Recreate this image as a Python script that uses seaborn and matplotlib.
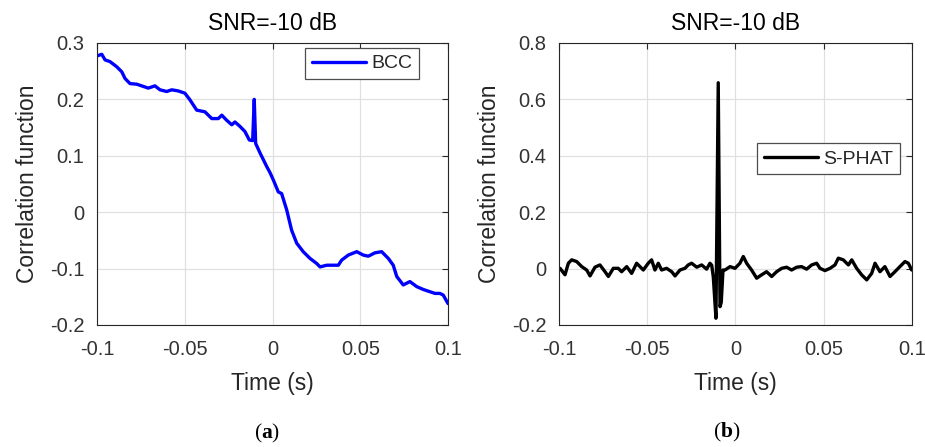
import matplotlib
matplotlib.use("Agg")
import matplotlib.pyplot as plt
import numpy as np
import pandas as pd
import seaborn as sns

# ---------------- data ----------------
bcc_time = [-0.1000, -0.0973, -0.0954, -0.0926, -0.0888, -0.0859, -0.0840, -0.0812,
            -0.0774, -0.0736, -0.0708, -0.0670, -0.0641, -0.0603, -0.0574, -0.0537,
            -0.0499, -0.0470, -0.0432, -0.0385, -0.0346, -0.0309, -0.0289, -0.0261,
            -0.0232, -0.0214, -0.0185, -0.0157, -0.0132, -0.0113, -0.0104, -0.0096,
            -0.0071, -0.0033, -0.0014, 0.0005, 0.0033, 0.0052, 0.0081, 0.0109,
            0.0138, 0.0175, 0.0214, 0.0252, 0.0271, 0.0309, 0.0375, 0.0394,
            0.0432, 0.0480, 0.0517, 0.0546, 0.0584, 0.0622, 0.0660, 0.0688,
            0.0708, 0.0745, 0.0783, 0.0822, 0.0859, 0.0897, 0.0926, 0.0954,
            0.0973, 0.1000]
bcc_value = [0.277, 0.280, 0.270, 0.267, 0.258, 0.249, 0.237, 0.228,
             0.227, 0.223, 0.220, 0.224, 0.217, 0.214, 0.217, 0.215,
             0.211, 0.199, 0.181, 0.178, 0.166, 0.166, 0.172, 0.163,
             0.155, 0.160, 0.152, 0.143, 0.128, 0.127, 0.200, 0.122,
             0.105, 0.081, 0.070, 0.057, 0.036, 0.033, 0.004, -0.032,
             -0.055, -0.070, -0.082, -0.091, -0.097, -0.094, -0.094, -0.085,
             -0.076, -0.070, -0.076, -0.078, -0.072, -0.070, -0.082, -0.094,
             -0.114, -0.129, -0.123, -0.132, -0.137, -0.141, -0.144, -0.144,
             -0.147, -0.162]

sphat_time = [-0.1000, -0.0994, -0.0966, -0.0947, -0.0928, -0.0900, -0.0871, -0.0843,
              -0.0824, -0.0796, -0.0768, -0.0739, -0.0720, -0.0692, -0.0664, -0.0645,
              -0.0616, -0.0588, -0.0560, -0.0541, -0.0522, -0.0494, -0.0475, -0.0456,
              -0.0437, -0.0418, -0.0390, -0.0361, -0.0342, -0.0314, -0.0286, -0.0267,
              -0.0248, -0.0219, -0.0191, -0.0163, -0.0144,
              -0.0134, -0.0125, -0.0110, -0.0097, -0.0087, -0.0080, -0.0070,
              -0.0059, -0.0030, -0.0002, 0.0026, 0.0045, 0.0064, 0.0092, 0.0121,
              0.0149, 0.0177, 0.0206, 0.0234, 0.0263, 0.0291, 0.0319, 0.0348,
              0.0376, 0.0404, 0.0433, 0.0461, 0.0480, 0.0508, 0.0537, 0.0565,
              0.0584, 0.0612, 0.0641, 0.0660, 0.0688, 0.0716, 0.0745, 0.0773,
              0.0792, 0.0820, 0.0848, 0.0877, 0.0905, 0.0933, 0.0962, 0.0981,
              0.1000]
sphat_value = [0.000, 0.001, -0.022, 0.019, 0.031, 0.025, 0.007, -0.005,
               -0.026, 0.005, 0.013, -0.011, -0.028, 0.001, 0.001, -0.011,
               0.007, -0.017, 0.019, 0.007, -0.005, 0.019, 0.031, -0.005,
               0.019, -0.005, 0.001, -0.011, -0.026, -0.005, 0.001, 0.013,
               0.019, 0.005, 0.013, -0.002, 0.019,
               0.012, -0.030, -0.176, 0.659, -0.135, -0.120, -0.005,
               -0.005, 0.007, 0.001, 0.019, 0.043, 0.019, -0.005, -0.034,
               -0.022, -0.011, -0.028, -0.011, 0.001, 0.005, -0.005, 0.005,
               0.007, -0.002, 0.013, 0.019, 0.001, -0.007, 0.001, 0.013,
               0.037, 0.031, 0.013, 0.031, 0.001, -0.022, -0.040, -0.017,
               0.019, -0.011, 0.007, -0.028, -0.011, 0.007, 0.025, 0.019,
               -0.005]

x_ticks = [-0.1, -0.05, 0, 0.05, 0.1]
x_tick_labels = ["-0.1", "-0.05", "0", "0.05", "0.1"]
bcc_y_ticks = [-0.2, -0.1, 0, 0.1, 0.2, 0.3]
bcc_y_labels = ["-0.2", "-0.1", "0", "0.1", "0.2", "0.3"]
sphat_y_ticks = [-0.2, 0, 0.2, 0.4, 0.6, 0.8]
sphat_y_labels = ["-0.2", "0", "0.2", "0.4", "0.6", "0.8"]
panel_title = "SNR=-10 dB"
x_label = "Time (s)"
y_label = "Correlation function"

# ---------------- style ----------------
sns.set_style("white")
plt.rcParams["font.family"] = ["Liberation Sans", "DejaVu Sans"]
plt.rcParams["mathtext.fontset"] = "custom"
plt.rcParams["mathtext.rm"] = "Liberation Serif"
plt.rcParams["mathtext.bf"] = "Liberation Serif:bold"

text_grey = "0.15"

fig = plt.figure(figsize=(9.25, 4.47), dpi=100)
ax_a = fig.add_axes([97 / 925, 1 - 325 / 447, 351 / 925, 282 / 447])
ax_b = fig.add_axes([559 / 925, 1 - 325 / 447, 352.7 / 925, 282 / 447])

bcc_df = pd.DataFrame({"time": bcc_time, "value": bcc_value})
sphat_df = pd.DataFrame({"time": sphat_time, "value": sphat_value})

sns.lineplot(data=bcc_df, x="time", y="value", ax=ax_a, color="#0000FF",
             linewidth=2.4, label="BCC", estimator=None, sort=False)
sns.lineplot(data=sphat_df, x="time", y="value", ax=ax_b, color="black",
             linewidth=2.4, label="S-PHAT", estimator=None, sort=False)

panels = [
    (ax_a, (-0.2, 0.3), bcc_y_ticks, bcc_y_labels, (0.917, 0.982)),
    (ax_b, (-0.2, 0.8), sphat_y_ticks, sphat_y_labels, (0.967, 0.645)),
]
for ax, ylim, yt, ytl, legend_anchor in panels:
    ax.set_xlim(-0.1, 0.1)
    ax.set_ylim(*ylim)
    ax.set_xticks(x_ticks)
    ax.set_xticklabels(x_tick_labels)
    ax.set_yticks(yt)
    ax.set_yticklabels(ytl)
    ax.set_axisbelow(True)
    ax.grid(True, color="0.88", linewidth=0.9)
    ax.tick_params(direction="in", top=True, right=True, length=4, width=0.8,
                   color=text_grey, labelcolor="0.2", labelsize=14.5)
    ax.tick_params(axis="x", pad=11)
    ax.tick_params(axis="y", pad=9)
    for spine in ax.spines.values():
        spine.set_visible(True)
        spine.set_color(text_grey)
        spine.set_linewidth(0.8)
    ax.set_title(panel_title, fontsize=16.5, color="black", pad=9)
    ax.set_xlabel(x_label, fontsize=16.5, color=text_grey, labelpad=9)
    ax.set_ylabel(y_label, fontsize=16.5, color=text_grey, labelpad=8)
    leg = ax.legend(loc="upper right", bbox_to_anchor=legend_anchor,
                    frameon=True, fancybox=False, framealpha=1,
                    fontsize=14, handlelength=2.8, handletextpad=0.25,
                    borderpad=0.35, borderaxespad=0)
    leg.get_frame().set_edgecolor("0.3")
    leg.get_frame().set_linewidth(0.9)
    for txt in leg.get_texts():
        txt.set_color(text_grey)

fig.text(267 / 925, 1 - 433 / 447, r"$\mathrm{(}\mathbf{a}\mathrm{)}$",
         fontsize=15.5, ha="center", va="center", color="black")
fig.text(727 / 925, 1 - 432 / 447, r"$\mathrm{(}\mathbf{b}\mathrm{)}$",
         fontsize=15.5, ha="center", va="center", color="black")

fig.savefig("out.png", dpi=100)
